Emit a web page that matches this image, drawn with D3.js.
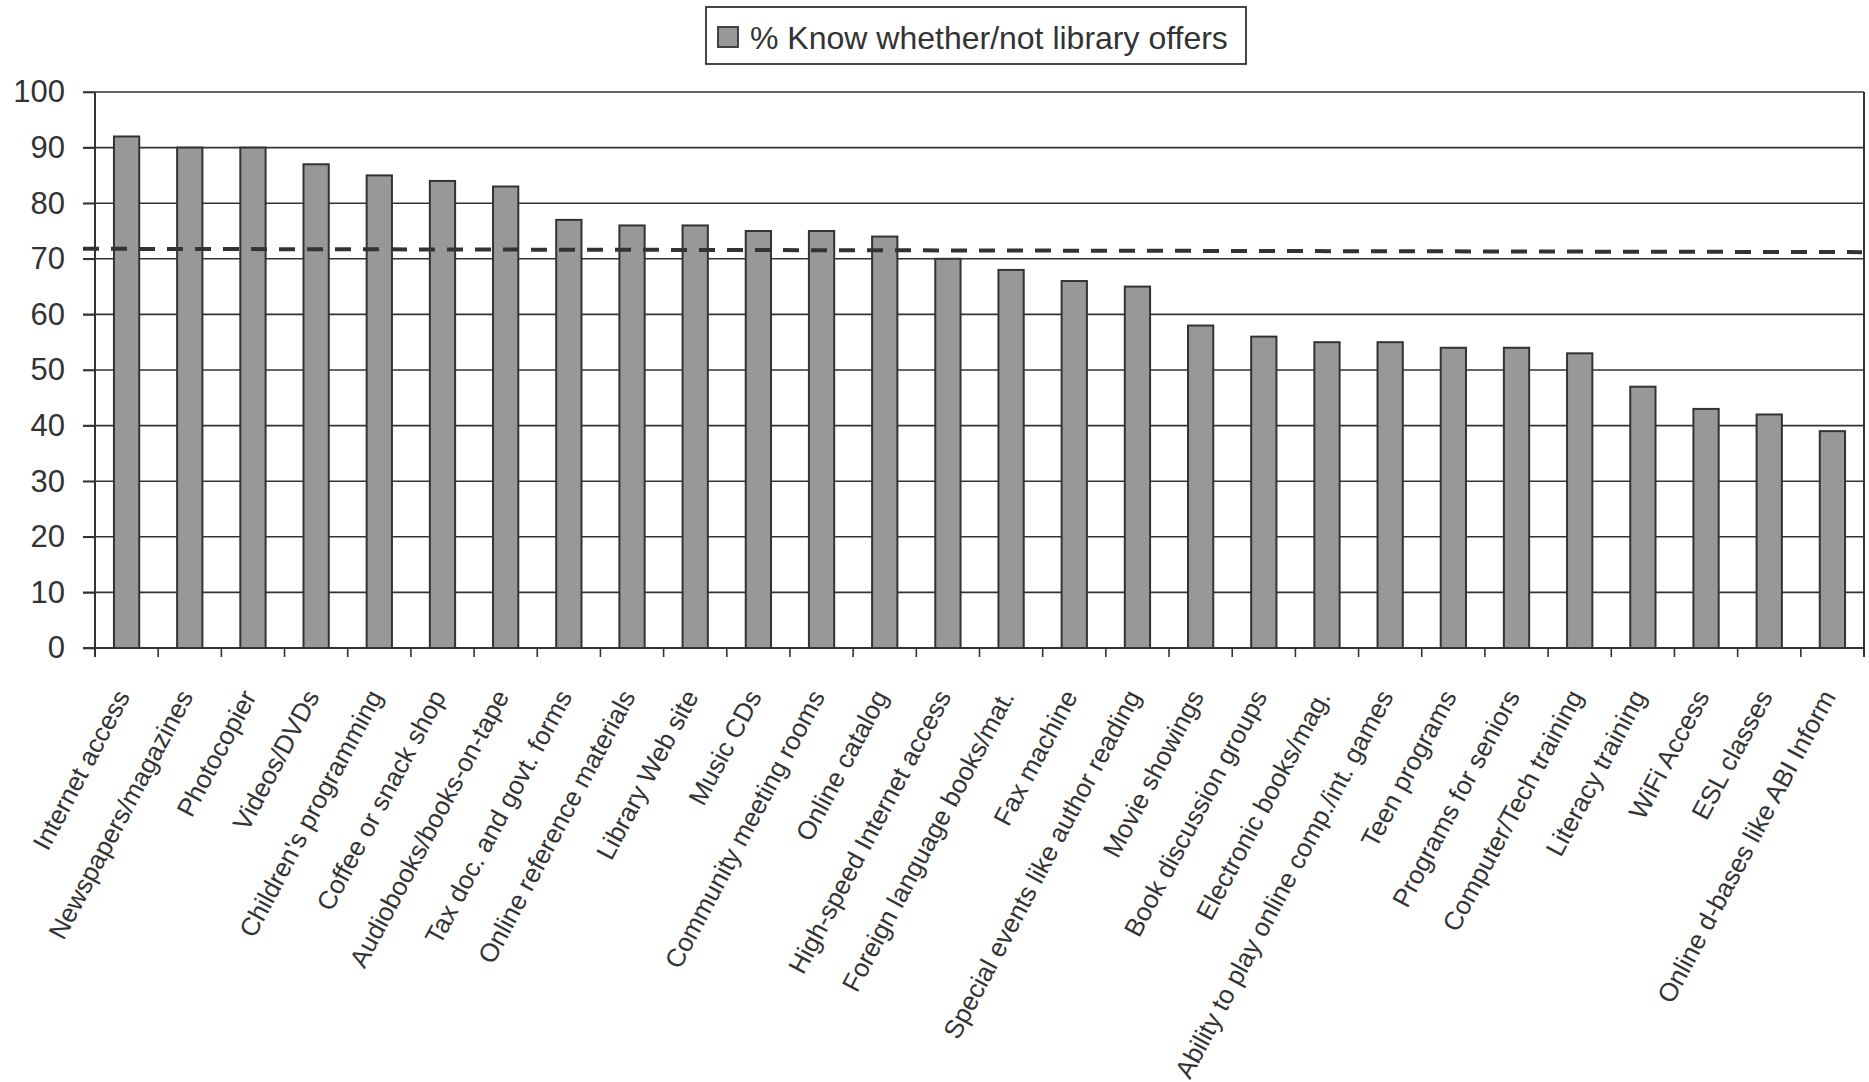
<!DOCTYPE html>
<html>
<head>
<meta charset="utf-8">
<script src="https://cdn.jsdelivr.net/npm/d3@7"></script>
<style>
  body { margin: 0; background: #fff; }
  text { font-family: Arial, "Liberation Sans", sans-serif; fill: #333; }
</style>
</head>
<body>
<div id="chart"></div>
<script>
const width = 1869;
const height = 1082;

const categories = [
  "Internet access", "Newspapers/magazines", "Photocopier", "Videos/DVDs",
  "Children's programming", "Coffee or snack shop", "Audiobooks/books-on-tape",
  "Tax doc. and govt. forms", "Online reference materials", "Library Web site",
  "Music CDs", "Community meeting rooms", "Online catalog", "High-speed Internet access",
  "Foreign language books/mat.", "Fax machine", "Special events like author reading",
  "Movie showings", "Book discussion groups", "Electronic books/mag.",
  "Ability to play online comp./int. games", "Teen programs", "Programs for seniors",
  "Computer/Tech training", "Literacy training", "WiFi Access", "ESL classes",
  "Online d-bases like ABI Inform"
];
const values = [92, 90, 90, 87, 85, 84, 83, 77, 76, 76, 75, 75, 74, 70, 68, 66, 65, 58, 56, 55, 55, 54, 54, 53, 47, 43, 42, 39];
const yTickValues = [0, 10, 20, 30, 40, 50, 60, 70, 80, 90, 100];
const seriesName = "% Know whether/not library offers";
// dashed reference line, value at left end and at right end
const refLine = [71.8, 71.2];

const margin = {top: 92, right: 5, bottom: 434, left: 95};
const innerW = width - margin.left - margin.right;
const innerH = height - margin.top - margin.bottom;

const svg = d3.select("#chart")
    .append("svg")
    .attr("width", width)
    .attr("height", height);

const g = svg.append("g")
    .attr("transform", `translate(${margin.left},${margin.top})`);

const x = d3.scaleBand()
    .domain(categories)
    .range([0, innerW])
    .paddingInner(0.6)
    .paddingOuter(0.3);

const y = d3.scaleLinear()
    .domain([0, 100])
    .range([innerH, 0]);

// gridlines (extend through tick marks)
g.selectAll(".grid")
    .data(yTickValues.filter(d => d > 0))
    .join("line")
    .attr("x1", -12)
    .attr("x2", innerW)
    .attr("y1", d => y(d))
    .attr("y2", d => y(d))
    .attr("stroke", "#333")
    .attr("stroke-width", 1.6);

// y axis
const yAxis = g.append("g")
    .call(d3.axisLeft(y).tickValues(yTickValues).tickSize(12).tickPadding(18));
yAxis.select(".domain").remove();
yAxis.selectAll("line").attr("stroke", "#333").attr("stroke-width", 1.6);
yAxis.selectAll("text").style("font-size", "31px").attr("fill", "#333");
g.append("line")
    .attr("x1", 0).attr("x2", 0)
    .attr("y1", 0).attr("y2", innerH + 9)
    .attr("stroke", "#333").attr("stroke-width", 2);

// right border
g.append("line")
    .attr("x1", innerW).attr("x2", innerW)
    .attr("y1", 0).attr("y2", innerH + 9)
    .attr("stroke", "#333").attr("stroke-width", 2);

// bars
g.selectAll(".bar")
    .data(values)
    .join("rect")
    .attr("class", "bar")
    .attr("x", (d, i) => x(categories[i]))
    .attr("y", d => y(d))
    .attr("width", x.bandwidth())
    .attr("height", d => innerH - y(d))
    .attr("fill", "#989898")
    .attr("stroke", "#333")
    .attr("stroke-width", 2);

// x axis baseline and ticks at band boundaries
g.append("line")
    .attr("x1", -12).attr("x2", innerW)
    .attr("y1", innerH).attr("y2", innerH)
    .attr("stroke", "#333").attr("stroke-width", 2);

const step = x.step();
g.selectAll(".xtick")
    .data(d3.range(categories.length + 1))
    .join("line")
    .attr("x1", i => i * step)
    .attr("x2", i => i * step)
    .attr("y1", innerH)
    .attr("y2", innerH + 9)
    .attr("stroke", "#333")
    .attr("stroke-width", 1.6);

// x labels
g.selectAll(".xlabel")
    .data(categories)
    .join("text")
    .attr("transform", d => `translate(${x(d) + x.bandwidth() / 2 - 4},${innerH + 44}) rotate(-62)`)
    .attr("text-anchor", "end")
    .attr("dy", "0.35em")
    .style("font-size", "26px")
    .text(d => d);

// dashed reference line
g.append("line")
    .attr("x1", -12)
    .attr("x2", innerW - 2)
    .attr("y1", y(refLine[0]))
    .attr("y2", y(refLine[1]))
    .attr("stroke", "#333")
    .attr("stroke-width", 4)
    .attr("stroke-dasharray", "16 12");

// legend
const legend = svg.append("g").attr("transform", "translate(706,7)");
legend.append("rect")
    .attr("width", 540)
    .attr("height", 57)
    .attr("fill", "#fff")
    .attr("stroke", "#333")
    .attr("stroke-width", 1.8);
legend.append("rect")
    .attr("x", 12)
    .attr("y", 20)
    .attr("width", 20)
    .attr("height", 20)
    .attr("fill", "#989898")
    .attr("stroke", "#333")
    .attr("stroke-width", 1.8);
legend.append("text")
    .attr("x", 44)
    .attr("y", 42)
    .style("font-size", "32px")
    .text(seriesName);
</script>
</body>
</html>
